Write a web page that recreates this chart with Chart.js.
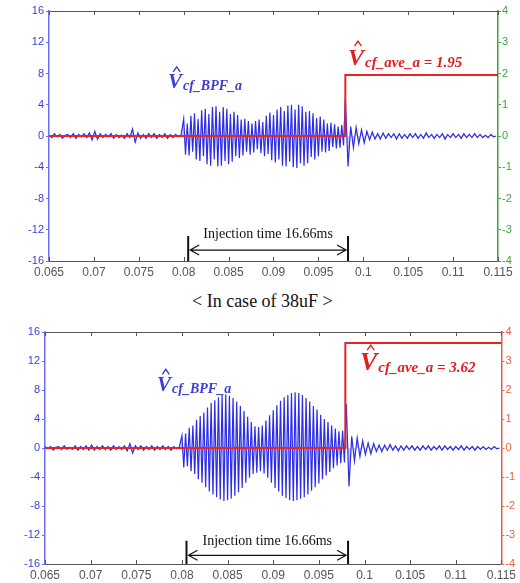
<!DOCTYPE html>
<html><head><meta charset="utf-8">
<script src="https://cdn.jsdelivr.net/npm/chart.js@4/dist/chart.umd.min.js"></script>
<style>
html,body{margin:0;padding:0;background:#fff;width:520px;height:583px;overflow:hidden;}
canvas{position:absolute;left:0;}
#c1{top:0;}
#c2{top:318px;}
#cap{position:absolute;left:192px;top:292px;font:18px "Liberation Serif","Times New Roman",serif;line-height:18px;white-space:nowrap;color:#111;}
</style></head>
<body>
<canvas id="c1" width="520" height="283"></canvas>
<div id="cap">&lt; In case of 38uF &gt;</div>
<canvas id="c2" width="520" height="265"></canvas>
<script>
// ---------- data ----------
const timeMin = 0.065, timeMax = 0.115, timeStep = 0.005;
const leftMin = -16, leftMax = 16, leftStep = 4;
const rightMin = -4, rightMax = 4, rightStep = 1;

// sample timing of each segment (s)
const preStart = 0.065, preDt = 0.0003;
const burstStart = 0.0800, burstDt = 0.0002;
const postStart = 0.0980, postDt = 0.0003;

// upper chart: V_cf_BPF_a (left axis)
const topPre = [0.1,-0.2,0.3,-0.1,0.2,-0.3,0.1,0.2,-0.2,0.3,-0.3,0.2,-0.1,0.3,-0.2,0.4,-0.5,0.6,-0.4,0.3,-0.2,0.2,-0.1,0.3,-0.3,0.2,-0.2,0.1,-0.3,0.3,-0.2,0.9,-0.8,0.4,-0.3,0.2,-0.3,0.3,-0.2,0.3,-0.3,0.2,-0.2,0.3,-0.3,0.2,-0.2,0.2,-0.1,0.1];
const topBurst = [2.2,-2.4,1.6,-2.5,2.6,-2.0,2.9,-3.0,2.2,-3.2,3.3,-2.6,3.5,-3.6,2.8,-3.8,3.7,-3.0,3.8,-3.9,
  3.1,-3.8,3.7,-3.2,3.5,-3.6,2.8,-3.3,3.1,-2.6,2.7,-2.8,2.1,-2.5,2.2,-2.0,1.9,-2.4,1.6,-2.1,
  1.9,-1.7,2.1,-2.2,1.8,-2.6,2.6,-2.3,3.0,-3.1,2.7,-3.4,3.4,-3.0,3.7,-3.8,3.2,-3.9,3.9,-3.3,
  4.0,-4.0,3.4,-4.1,4.0,-3.5,3.8,-3.8,3.1,-3.5,3.2,-2.7,2.9,-3.0,2.3,-2.6,2.5,-2.0,2.1,-2.1,
  1.6,-1.9,1.7,-1.4,1.5,-1.6,1.2,-1.5,1.4,-1.2];
const topPost = [4.9,-3.9,1.2,-1.5,1.1,-1.0,0.8,-0.9,0.6,-0.5,0.5,-0.4,0.3,-0.4,0.4,-0.3,0.3,-0.2,0.3,-0.4,0.3,-0.3,0.2,-0.3,0.3,-0.2,0.3,-0.3,0.2,-0.3,0.4,-0.2,0.2,-0.3,0.2,-0.2,0.3,-0.4,0.2,-0.2,0.3,-0.2,0.2,-0.3,0.3,-0.2,0.2,-0.2,0.3,-0.2,0.2,-0.2,0.1,-0.2,0.2,-0.1,0.0];
// upper chart: V_cf_ave_a step (right axis)
const topStepTime = 0.0980;
const topAve = 1.95;

// lower chart
const botPre = [0.2,-0.1,0.2,-0.3,0.1,0.2,-0.2,0.3,-0.2,0.1,-0.2,0.3,-0.3,0.2,-0.2,0.3,-0.3,0.4,-0.3,0.2,-0.2,0.3,-0.2,0.2,-0.3,0.3,-0.2,0.2,-0.2,0.3,-0.4,0.6,-0.7,0.3,-0.2,0.3,-0.3,0.2,-0.2,0.3,-0.3,0.2,-0.2,0.3,-0.2,0.2,-0.3,0.2,-0.1,0.1];
const botBurst = [1.7,-2.7,2.0,-2.5,2.8,-3.2,3.1,-3.6,3.9,-4.3,4.4,-4.8,4.9,-5.4,5.6,-6.0,6.2,-6.4,6.6,-6.8,
  7.0,-7.1,7.3,-7.3,7.4,-7.2,7.2,-7.0,6.9,-6.6,6.4,-6.1,5.8,-5.5,5.1,-4.8,4.3,-4.1,3.6,-3.6,
  3.0,-3.4,2.9,-3.2,3.1,-3.5,3.8,-4.1,4.5,-4.8,5.2,-5.5,5.9,-6.0,6.5,-6.6,7.0,-6.9,7.3,-7.2,
  7.6,-7.3,7.7,-7.2,7.6,-7.0,7.3,-6.8,6.9,-6.4,6.4,-5.9,5.8,-5.4,5.3,-4.9,4.6,-4.3,4.0,-3.8,
  3.6,-3.3,3.1,-2.8,2.7,-2.4,2.3,-2.1,2.4,-2.0];
const botPost = [6.1,-5.3,1.6,-1.8,1.4,-1.2,1.0,-0.9,0.7,-0.8,0.6,-0.5,0.4,-0.5,0.4,-0.3,0.5,-0.3,0.3,-0.4,0.3,-0.3,0.3,-0.2,0.3,-0.3,0.2,-0.3,0.3,-0.2,0.3,-0.3,0.2,-0.2,0.3,-0.3,0.3,-0.2,0.2,-0.3,0.2,-0.2,0.3,-0.3,0.2,-0.2,0.2,-0.3,0.2,-0.2,0.2,-0.2,0.1,-0.2,0.2,-0.1,0.0];
const botStepTime = 0.0979;
const botAve = 3.62;

// injection window marks (s)
const injStart = 0.0805, injEnd = 0.0983;
const injText = "Injection time 16.66ms";

// ---------- helpers ----------
function seg(start, dt, vals){ return vals.map((v,i)=>({x:start+i*dt, y:v})); }
function stepSeries(t, v){ return [{x:timeMin,y:0},{x:t,y:0},{x:t,y:v},{x:timeMax,y:v}]; }

const BLUE_TXT = 'rgb(60,60,215)';
const AX_BLUE = 'rgb(110,110,240)';

function drawHatLabel(ctx, x, y, color, bigSize, sub, subSize){
  ctx.save();
  ctx.fillStyle = color; ctx.strokeStyle = color;
  ctx.textAlign = 'left'; ctx.textBaseline = 'alphabetic';
  ctx.font = 'italic bold ' + bigSize + 'px "Liberation Serif", serif';
  ctx.fillText('V', x, y);
  const w = ctx.measureText('V').width;
  const hx = x + w*0.62, hy = y - bigSize*0.78;
  ctx.lineWidth = 1.4;
  ctx.beginPath();
  ctx.moveTo(hx-3.5, hy); ctx.lineTo(hx, hy-5); ctx.lineTo(hx+3.5, hy);
  ctx.stroke();
  ctx.font = 'italic bold ' + subSize + 'px "Liberation Serif", serif';
  ctx.fillText(sub, x + w + 1, y + 2);
  ctx.restore();
}

const decor = {
  id: 'decor',
  afterDatasetsDraw(chart, args, o){
    const ctx = chart.ctx;
    const {left, right, top, bottom} = chart.chartArea;
    const xs = chart.scales.x, ys = chart.scales.y;
    ctx.save();
    // top frame
    ctx.strokeStyle = '#555'; ctx.lineWidth = 1;
    ctx.beginPath(); ctx.moveTo(left, top+0.5); ctx.lineTo(right, top+0.5); ctx.stroke();
    // inward x ticks
    ctx.beginPath();
    xs.ticks.forEach(t => {
      const px = Math.round(xs.getPixelForValue(t.value)) + 0.5;
      ctx.moveTo(px, bottom); ctx.lineTo(px, bottom-4);
      ctx.moveTo(px, top); ctx.lineTo(px, top+4);
    });
    ctx.stroke();
    // injection marks
    const p1 = xs.getPixelForValue(o.inj1), p2 = xs.getPixelForValue(o.inj2);
    const yb = ys.getPixelForValue(leftMin), yt = ys.getPixelForValue(o.injTop);
    ctx.strokeStyle = '#111'; ctx.lineWidth = 2;
    ctx.beginPath();
    ctx.moveTo(p1, yb); ctx.lineTo(p1, yt);
    ctx.moveTo(p2, yb); ctx.lineTo(p2, yt);
    ctx.stroke();
    const ya = ys.getPixelForValue(o.injArrow);
    ctx.lineWidth = 1.2;
    ctx.beginPath();
    ctx.moveTo(p1+2, ya); ctx.lineTo(p2-2, ya);
    ctx.moveTo(p1+11, ya-5); ctx.lineTo(p1+2, ya); ctx.lineTo(p1+11, ya+5);
    ctx.moveTo(p2-11, ya-5); ctx.lineTo(p2-2, ya); ctx.lineTo(p2-11, ya+5);
    ctx.stroke();
    ctx.fillStyle = '#111';
    ctx.font = '14px "Liberation Serif", serif';
    ctx.textAlign = 'center'; ctx.textBaseline = 'alphabetic';
    ctx.fillText(injText, (p1+p2)/2, ys.getPixelForValue(o.injTextY));
    // labels
    drawHatLabel(ctx, xs.getPixelForValue(o.blueX), ys.getPixelForValue(o.blueY), BLUE_TXT, 21, 'cf_BPF_a', 14);
    drawHatLabel(ctx, xs.getPixelForValue(o.redX), ys.getPixelForValue(o.redY), 'rgb(225,30,30)', o.redBig, o.redText, 15);
    ctx.restore();
  }
};

function build(id, cfg){
  const blue = seg(preStart, preDt, cfg.pre).concat(seg(burstStart, burstDt, cfg.burst), seg(postStart, postDt, cfg.post));
  return new Chart(document.getElementById(id), {
    type: 'line',
    data: { datasets: [
      { data: stepSeries(cfg.stepTime, cfg.ave), yAxisID: 'y2', borderColor: 'rgb(232,35,35)', borderWidth: 2, pointRadius: 0, order: 0, tension: 0, fill: false },
      { data: blue, yAxisID: 'y', borderColor: 'rgb(45,45,232)', borderWidth: 1.2, pointRadius: 0, order: 1, tension: 0,
        fill: 'origin', backgroundColor: 'rgba(110,110,240,0.35)' }
    ]},
    options: {
      responsive: false, animation: false, events: [],
      layout: { padding: { top: cfg.padTop, left: 0, right: 0, bottom: 0 } },
      plugins: { legend: { display: false }, tooltip: { enabled: false }, decor: cfg.decor },
      scales: {
        x: {
          type: 'linear', min: timeMin, max: timeMax,
          afterFit: s => { s.height = cfg.xH; },
          ticks: { stepSize: timeStep, autoSkip: false, maxRotation: 0, padding: 4, color: '#555',
            font: { family: '"Liberation Sans", Arial, sans-serif', size: 12 },
            callback: v => String(+(+v).toFixed(3)) },
          grid: { drawOnChartArea: false, drawTicks: false },
          border: { display: true, color: '#555', width: 1 }
        },
        y: {
          position: 'left', min: leftMin, max: leftMax,
          afterFit: s => { s.width = cfg.leftW; },
          ticks: { stepSize: leftStep, padding: 2, color: BLUE_TXT,
            font: { family: '"Liberation Sans", Arial, sans-serif', size: 11 } },
          grid: { drawOnChartArea: false, drawTicks: true, tickLength: 3, color: AX_BLUE },
          border: { display: true, color: AX_BLUE, width: 1.5 }
        },
        y2: {
          position: 'right', min: rightMin, max: rightMax,
          afterFit: s => { s.width = cfg.rightW; },
          ticks: { stepSize: rightStep, padding: 1, color: cfg.rightColor,
            font: { family: '"Liberation Sans", Arial, sans-serif', size: 11 } },
          grid: { drawOnChartArea: false, drawTicks: true, tickLength: 3, color: cfg.rightColor },
          border: { display: true, color: cfg.rightColor, width: 1.5 }
        }
      }
    },
    plugins: [decor]
  });
}

build('c1', {
  pre: topPre, burst: topBurst, post: topPost, stepTime: topStepTime, ave: topAve,
  rightColor: 'rgb(60,165,60)', padTop: 11, xH: 22, leftW: 49, rightW: 22,
  decor: { inj1: injStart, inj2: injEnd, injTop: -12.8, injArrow: -14.6, injTextY: -13.1,
    blueX: 0.07825, blueY: 6.1, redX: 0.0983, redY: 9.1, redBig: 24, redText: 'cf_ave_a = ' + topAve }
});
build('c2', {
  pre: botPre, burst: botBurst, post: botPost, stepTime: botStepTime, ave: botAve,
  rightColor: 'rgb(232,95,75)', padTop: 14, xH: 19, leftW: 45, rightW: 15,
  decor: { inj1: injStart, inj2: 0.0982, injTop: -12.8, injArrow: -14.8, injTextY: -13.4,
    blueX: 0.07728, blueY: 7.9, redX: 0.0995, redY: 10.7, redBig: 26, redText: 'cf_ave_a = ' + botAve }
});
</script>
</body></html>
